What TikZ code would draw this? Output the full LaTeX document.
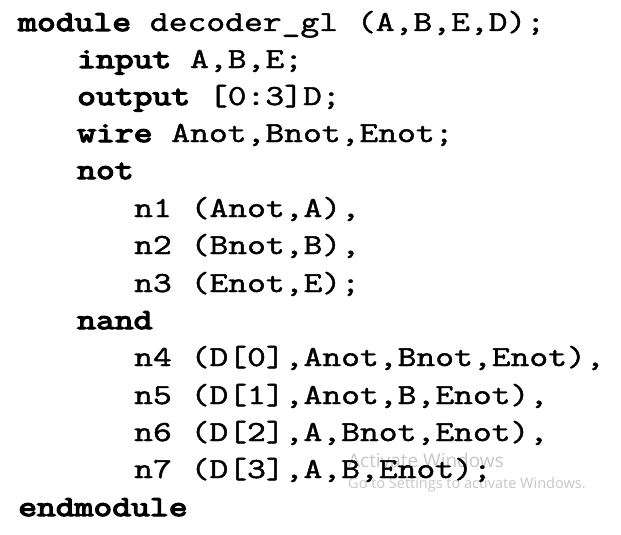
\documentclass[tikz,border=0pt]{standalone}
\usepackage{fontspec}
\usepackage{tikz}
\newfontfamily\codefont[FakeStretch=1.26,FakeBold=1.6]{Latin Modern Mono}
\newfontfamily\keyfont[FakeStretch=1.26,FakeBold=4.5]{Latin Modern Mono}
\newfontfamily\markfont{Open Sans}
\newcommand{\kw}[1]{{\keyfont #1}}
\begin{document}
\begin{tikzpicture}[x=1pt, y=-1pt,
    codeline/.style={anchor=base west, inner sep=0pt, font=\codefont\fontsize{29}{32}\selectfont},
    watermark/.style={anchor=base west, inner sep=0pt, text=black!22}]
                \useasboundingbox [fill=white] (0, 0) rectangle (621, 535);
                % watermark behind the listing
                \node [watermark, font=\markfont\fontsize{19}{22}\selectfont] (wmA) at (348, 467) {Activate Windows};
                \node [watermark, font=\markfont\fontsize{14.5}{17}\selectfont] (wmB) at (348, 488) {Go to Settings to activate Windows.};
                % module header
                \node [codeline] (lmod) at (18, 31) {\kw{module} decoder\_gl (A,B,E,D);};
                \node [codeline] (linp) at (77, 68) {\kw{input} A,B,E;};
                \node [codeline] (lout) at (77, 105) {\kw{output} [0:3]D;};
                \node [codeline] (lwir) at (77, 142) {\kw{wire} Anot,Bnot,Enot;};
                % not gates
                \node [codeline] (lnot) at (77, 179) {\kw{not}};
                \node [codeline] (lna) at (134, 217) {n1 (Anot,A),};
                \node [codeline] (lnb) at (134, 254) {n2 (Bnot,B),};
                \node [codeline] (lnc) at (134, 292) {n3 (Enot,E);};
                % nand gates
                \node [codeline] (lnand) at (77, 329) {\kw{nand}};
                \node [codeline] (lnd) at (134, 366) {n4 (D[0],Anot,Bnot,Enot),};
                \node [codeline] (lne) at (134, 404) {n5 (D[1],Anot,B,Enot),};
                \node [codeline] (lnf) at (134, 441) {n6 (D[2],A,Bnot,Enot),};
                \node [codeline] (lng) at (134, 478) {n7 (D[3],A,B,Enot);};
                \node [codeline] (lend) at (18, 516) {\kw{endmodule}};
            \end{tikzpicture}
\end{document}
